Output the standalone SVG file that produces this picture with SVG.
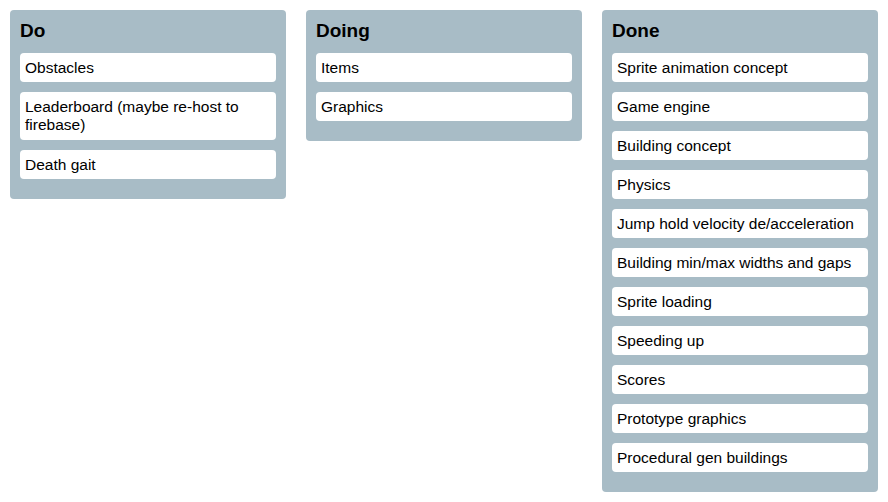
<svg xmlns="http://www.w3.org/2000/svg" width="888" height="502" viewBox="0 0 888 502">
<style>
.panel{fill:#a8bcc6}
.card{fill:#ffffff}
.title{font-family:"Liberation Sans",Arial,sans-serif;font-weight:bold;font-size:19px;fill:#000}
.t{font-family:"Liberation Sans",Arial,sans-serif;font-size:15.5px;fill:#000}
</style>
<rect width="888" height="502" fill="#ffffff"/>
<g id="col-do">
<rect class="panel" x="10" y="10" width="276" height="189" rx="4"/>
<text class="title" x="20" y="37">Do</text>
<g id="do-1"><rect class="card" x="20" y="53" width="256" height="29" rx="4"/><text class="t" x="25" y="73">Obstacles</text></g>
<g id="do-2"><rect class="card" x="20" y="92" width="256" height="48" rx="4"/><text class="t" x="25" y="112">Leaderboard (maybe re-host to</text><text class="t" x="25" y="130">firebase)</text></g>
<g id="do-3"><rect class="card" x="20" y="150" width="256" height="29" rx="4"/><text class="t" x="25" y="170">Death gait</text></g>
</g>
<g id="col-doing">
<rect class="panel" x="306" y="10" width="276" height="131" rx="4"/>
<text class="title" x="316" y="37">Doing</text>
<g id="doing-1"><rect class="card" x="316" y="53" width="256" height="29" rx="4"/><text class="t" x="321" y="73">Items</text></g>
<g id="doing-2"><rect class="card" x="316" y="92" width="256" height="29" rx="4"/><text class="t" x="321" y="112">Graphics</text></g>
</g>
<g id="col-done">
<rect class="panel" x="602" y="10" width="276" height="482" rx="4"/>
<text class="title" x="612" y="37">Done</text>
<g id="done-1"><rect class="card" x="612" y="53" width="256" height="29" rx="4"/><text class="t" x="617" y="73">Sprite animation concept</text></g>
<g id="done-2"><rect class="card" x="612" y="92" width="256" height="29" rx="4"/><text class="t" x="617" y="112">Game engine</text></g>
<g id="done-3"><rect class="card" x="612" y="131" width="256" height="29" rx="4"/><text class="t" x="617" y="151">Building concept</text></g>
<g id="done-4"><rect class="card" x="612" y="170" width="256" height="29" rx="4"/><text class="t" x="617" y="190">Physics</text></g>
<g id="done-5"><rect class="card" x="612" y="209" width="256" height="29" rx="4"/><text class="t" x="617" y="229">Jump hold velocity de/acceleration</text></g>
<g id="done-6"><rect class="card" x="612" y="248" width="256" height="29" rx="4"/><text class="t" x="617" y="268">Building min/max widths and gaps</text></g>
<g id="done-7"><rect class="card" x="612" y="287" width="256" height="29" rx="4"/><text class="t" x="617" y="307">Sprite loading</text></g>
<g id="done-8"><rect class="card" x="612" y="326" width="256" height="29" rx="4"/><text class="t" x="617" y="346">Speeding up</text></g>
<g id="done-9"><rect class="card" x="612" y="365" width="256" height="29" rx="4"/><text class="t" x="617" y="385">Scores</text></g>
<g id="done-10"><rect class="card" x="612" y="404" width="256" height="29" rx="4"/><text class="t" x="617" y="424">Prototype graphics</text></g>
<g id="done-11"><rect class="card" x="612" y="443" width="256" height="29" rx="4"/><text class="t" x="617" y="463">Procedural gen buildings</text></g>
</g>
<g id="connectors"></g>
</svg>
